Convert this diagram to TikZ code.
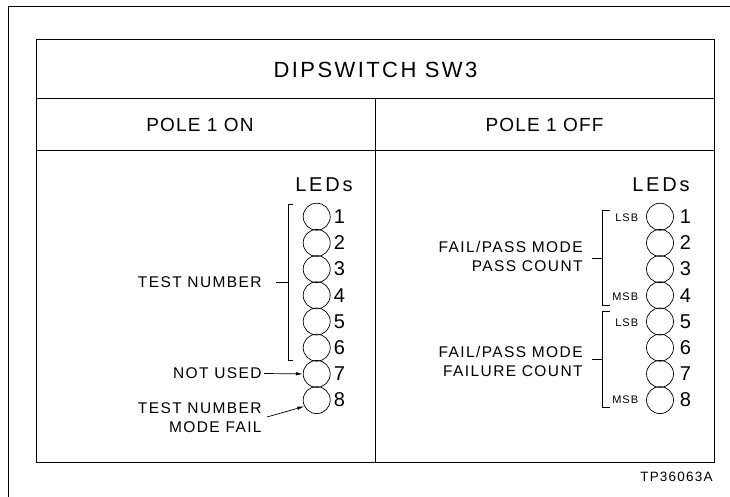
\documentclass[tikz,border=0pt]{standalone}
\usepackage{fontspec}
\setmainfont{Liberation Sans}
\newfontfamily\trk[LetterSpace=9]{Liberation Sans}
\newfontfamily\trkt[LetterSpace=11]{Liberation Sans}
\newfontfamily\trkp[LetterSpace=6]{Liberation Sans}
\newfontfamily\trkl[LetterSpace=14]{Liberation Sans}
\usetikzlibrary{arrows.meta}
\begin{document}
\begin{tikzpicture}[x=1pt,y=-1pt,line width=0.8pt,
  led/.style={circle,draw,minimum size=27pt,inner sep=0pt,line width=0.7pt},
  num/.style={anchor=west,inner sep=0pt,font=\fontsize{20}{20}\selectfont},
  lbl/.style={inner sep=0pt,align=right,font=\trk\fontsize{15.5}{19.3}\selectfont},
  bit/.style={anchor=east,inner sep=0pt,font=\trk\fontsize{11}{11}\selectfont},
  hdr/.style={inner sep=0pt,font=\trkp\fontsize{19}{19}\selectfont},
  ledhdr/.style={anchor=east,inner sep=0pt,font=\trkl\fontsize{20}{20}\selectfont},
  brk/.style={line width=0.7pt},
  arr/.style={line width=0.7pt,-{Latex[length=7pt,width=3.5pt]}}]
\useasboundingbox (0,0) rectangle (730,497);
% outer frame
\draw[line width=1.7pt] (8.5,497) -- (8.5,6.5) -- (730,6.5);
% table
\draw (36,39.5) rectangle (714,462.5);
\draw (36,98) -- (714,98);
\draw (36,150) -- (714,150);
\draw (375,98) -- (375,462.5);
\node[inner sep=0pt,font=\trkt\fontsize{22}{22}\selectfont] (title) at (375.5,70) {DIPSWITCH SW3};
\node[hdr] (on) at (200,124.7) {POLE 1 ON};
\node[hdr] (off) at (544.5,124.7) {POLE 1 OFF};
% LED headers
\node[ledhdr] (ledsL) at (353,185) {LEDs};
\node[ledhdr] (ledsR) at (690,185) {LEDs};
\foreach \i in {1,...,8}{
  \pgfmathsetmacro\yy{216.7+(\i-1)*26.2}
  \node[led] (L\i) at (316.7,\yy) {};
  \node[num] (nL\i) at (333.5,\yy) {\i};
  \node[led] (R\i) at (660,\yy) {};
  \node[num] (nR\i) at (679.5,\yy) {\i};
}
% left bracket
\coordinate (lbt) at (288,204);
\coordinate (lbb) at (288,360);
\coordinate (lbm) at (288,282);
\draw[brk] ([xshift=5pt]lbt) -- (lbt) -- (lbb) -- ([xshift=5pt]lbb);
\node[lbl,anchor=east] (testnum) at (262,282) {TEST NUMBER};
\draw[brk] (lbm) -- ([xshift=-12pt]lbm);
\node[lbl,anchor=east] (notused) at (262,373.5) {NOT USED};
\draw[arr] ([xshift=2pt]notused.east) -- (L7.west);
\node[lbl,anchor=east] (tnmf) at (262,417.5) {TEST NUMBER\\MODE FAIL};
\draw[arr] ([xshift=5pt,yshift=0.5pt]tnmf.east) -- (L8.207);
% right brackets
\coordinate (r1t) at (602.7,210);
\coordinate (r1b) at (602.7,305);
\coordinate (r1m) at (602.7,258);
\draw[brk] ([xshift=7pt]r1t) -- (r1t) -- (r1b) -- ([xshift=7pt]r1b);
\draw[brk] (r1m) -- ([xshift=-11pt]r1m);
\node[lbl,anchor=east] (pass) at (583,256.3) {FAIL/PASS MODE\\PASS COUNT};
\coordinate (r2t) at (602.7,311.7);
\coordinate (r2b) at (602.7,407);
\coordinate (r2m) at (602.7,359.3);
\draw[brk] ([xshift=7pt]r2t) -- (r2t) -- (r2b) -- ([xshift=7pt]r2b);
\draw[brk] (r2m) -- ([xshift=-11pt]r2m);
\node[lbl,anchor=east] (fail) at (583,361.3) {FAIL/PASS MODE\\FAILURE COUNT};
\node[bit] (lsb1) at (638.5,217.7) {LSB};
\node[bit] (msb1) at (638.5,297) {MSB};
\node[bit] (lsb2) at (638.5,322.7) {LSB};
\node[bit] (msb2) at (638.5,400) {MSB};
\node[anchor=east,inner sep=0pt,font=\trk\fontsize{13.5}{13.5}\selectfont] (tp) at (713,477) {TP36063A};
\end{tikzpicture}
\end{document}
